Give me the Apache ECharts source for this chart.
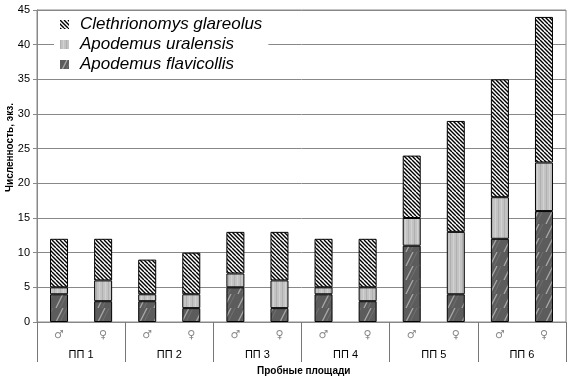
<!DOCTYPE html>
<html><head><meta charset="utf-8">
<script src="https://cdn.jsdelivr.net/npm/echarts@6/dist/echarts.min.js"></script>
<style>html,body{margin:0;padding:0;background:#fff}#c{width:570px;height:380px}</style>
</head><body><div id="c"></div>
<script>
const sexes = ['♂','♀','♂','♀','♂','♀','♂','♀','♂','♀','♂','♀'];
const plots = ['ПП 1','ПП 2','ПП 3','ПП 4','ПП 5','ПП 6'];
const flavicollis = [4,3,3,2,5,2,4,3,11,4,12,16];
const uralensis   = [1,3,1,2,2,4,1,2,4,9,6,7];
const glareolus   = [7,6,5,6,6,7,7,7,9,16,17,21];
const yTicks = [0,5,10,15,20,25,30,35,40,45];

function mk(w,h,fn){const c=document.createElement('canvas');c.width=w;c.height=h;fn(c.getContext('2d'),w,h);return c;}
const patHatch = mk(8,8,(g,w,h)=>{g.fillStyle='#fff';g.fillRect(0,0,w,h);g.strokeStyle='#000';g.lineWidth=1.4;
  for(let k=-8;k<=8;k+=4){g.beginPath();g.moveTo(k,0);g.lineTo(k+8,8);g.stroke();}});
const patLight = mk(6,6,(g,w,h)=>{g.fillStyle='#c3c3c3';g.fillRect(0,0,w,h);g.fillStyle='#b0b0b0';g.fillRect(0,0,1,h);g.fillStyle='#d2d2d2';g.fillRect(3,0,1,h);});
const patDark = mk(14,14,(g,w,h)=>{g.fillStyle='#5c5c5c';g.fillRect(0,0,w,h);g.strokeStyle='#a8a8a8';g.lineWidth=1.3;
  for(let k=-14;k<=28;k+=14){g.beginPath();g.moveTo(k,14);g.lineTo(k+7,0);g.stroke();}
  g.strokeStyle='#707070';g.lineWidth=1;for(let k=-14;k<=28;k+=14){g.beginPath();g.moveTo(k+4,14);g.lineTo(k+11,0);g.stroke();}});

const chart = echarts.init(document.getElementById('c'));
const font = 'Liberation Sans, Arial, sans-serif';
const barStyle = (p)=>({color:{image:p,repeat:'repeat'},borderColor:'#000',borderWidth:1});
chart.setOption({
  animation:false,
  grid:{left:37,right:4,top:10,bottom:58,show:true,borderColor:'#888',borderWidth:1},
  legend:{
    data:['Clethrionomys glareolus','Apodemus uralensis','Apodemus flavicollis'],
    orient:'vertical',left:54,top:14,itemWidth:9,itemHeight:9,itemGap:3,icon:'rect',
    itemStyle:{borderWidth:0},
    backgroundColor:'#fff',padding:[2,6,2,6],
    textStyle:{fontFamily:font,fontStyle:'italic',fontSize:17,lineHeight:17,color:'#000',padding:[0,0,0,6]}
  },
  xAxis:[
    {type:'category',data:sexes,position:'bottom',
     axisLine:{lineStyle:{color:'#888'}},
     axisTick:{length:23,lineStyle:{color:'#777'},interval:0},
     axisLabel:{interval:0,margin:8,fontFamily:'DejaVu Sans',fontSize:11,color:'#888'}},
    {type:'category',data:plots,position:'bottom',
     axisLine:{show:true,lineStyle:{color:'#888'}},
     axisTick:{show:true,length:40,lineStyle:{color:'#777'},interval:0},
     axisLabel:{interval:0,margin:27,fontFamily:font,fontSize:11,color:'#000'}}
  ],
  yAxis:{type:'value',min:0,max:45,interval:5,
    axisLine:{show:true,lineStyle:{color:'#888'}},
    axisTick:{show:true,length:4,lineStyle:{color:'#888'}},
    splitLine:{lineStyle:{color:'#888'}},
    axisLabel:{fontFamily:font,fontSize:11,color:'#000',margin:7,
      formatter:(v)=>yTicks.includes(v)?String(v):''}},
  graphic:[
    {type:'text',left:257,top:366,style:{text:'Пробные площади',font:'bold 10px Liberation Sans, Arial',fill:'#000'}},
    {type:'text',x:5,y:192,rotation:Math.PI/2,style:{text:'Численность, экз.',font:'bold 10px Liberation Sans, Arial',fill:'#000'}}
  ],
  series:[
    {name:'Apodemus flavicollis',type:'bar',stack:'s',data:flavicollis,barWidth:18,itemStyle:barStyle(patDark)},
    {name:'Apodemus uralensis',type:'bar',stack:'s',data:uralensis,barWidth:18,itemStyle:barStyle(patLight)},
    {name:'Clethrionomys glareolus',type:'bar',stack:'s',data:glareolus,barWidth:18,itemStyle:barStyle(patHatch)}
  ]
});
</script></body></html>
